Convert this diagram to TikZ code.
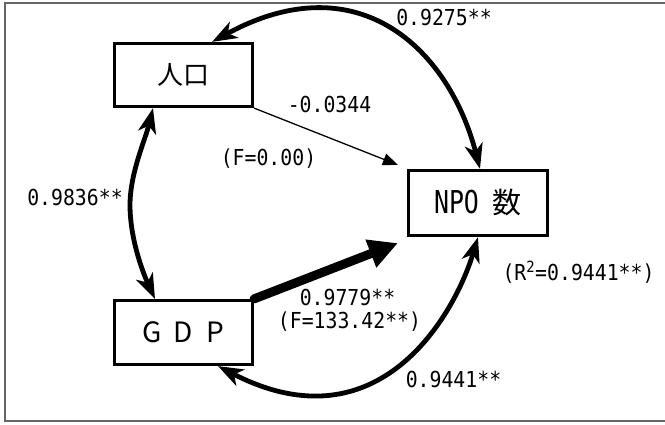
\documentclass[tikz,border=0pt]{standalone}
\usepackage{fontspec}
\usetikzlibrary{arrows.meta,calc}
\newfontfamily\labfont[FakeStretch=0.9]{DejaVu Sans Mono}
\newfontfamily\npofont[FakeStretch=0.79]{DejaVu Sans Mono}
\newfontfamily\cjkfont{Noto Sans CJK JP}
\definecolor{framegray}{HTML}{666666}
\begin{document}
\begin{tikzpicture}[x=1pt,y=-1pt,
  varbox/.style={draw, line width=3.2pt, inner sep=0pt, fill=white},
  lab/.style={inner sep=0pt, anchor=base, font=\labfont\fontsize{22pt}{24pt}\selectfont},
  corr/.style={line width=4.8pt,
    {Stealth[length=25pt,width=18pt,inset=7pt]}-{Stealth[length=25pt,width=18pt,inset=7pt]}},
  thinpath/.style={line width=1.3pt, -{Triangle[length=15pt,width=12pt]}},
  thickpath/.style={line width=9pt, line cap=round, -{Triangle[length=29pt,width=28pt]}}]
\useasboundingbox (0,0) rectangle (665,424);
\fill[white] (0,0) rectangle (665,424);
\draw[framegray, line width=1.3pt] (5,3) rectangle (672,421);

\node[varbox, minimum width=138pt, minimum height=63pt] (pop) at (183.5,75)
  {\cjkfont\fontsize{26pt}{28pt}\selectfont 人口};
\node[varbox, minimum width=138pt, minimum height=64pt] (gdp) at (183.5,332.5)
  {\cjkfont\fontsize{28pt}{30pt}\selectfont\makebox[31.5pt]{G}\makebox[31.5pt]{D}\makebox[31.5pt]{P}\hspace{6pt}};
\node[varbox, minimum width=139pt, minimum height=65pt] (npo) at (478,203)
  {{\npofont\fontsize{31.5pt}{34pt}\selectfont NPO}\hspace{14pt}{\cjkfont\fontsize{29pt}{32pt}\selectfont 数}};
\coordinate (lmid) at (130,205);

% correlations
\draw[corr] ([xshift=2pt]npo.north) .. controls +(-30.5,-118) and +(147.8,-80.6) .. ([xshift=28.5pt]pop.north);
\draw[corr] ([xshift=-30.5pt]pop.south) .. controls +(-7.5,31) and +(0,-32) .. (lmid)
  .. controls +(0,34) and +(-12,-26) .. ([xshift=-28.5pt]gdp.north);
\draw[corr] (npo.south) .. controls +(-23,76.5) and +(161.6,83.5) .. ([xshift=34.5pt]gdp.south);

% paths
\draw[thinpath] (pop.south east) -- ([xshift=-9pt,yshift=4pt]npo.north west);
\draw[thickpath] (gdp.north east) -- ([xshift=-9pt,yshift=-6pt]npo.south west);

% labels
\node[lab] (l1) at (444,25) {0.9275**};
\node[lab] (l2) at (329.5,112) {-0.0344};
\node[lab] (l3) at (268.5,165) {(F=0.00)};
\node[lab] (l4) at (75,205) {0.9836**};
\node[lab] (l5) at (347.5,305) {0.9779**};
\node[lab] (l6) at (349.5,328) {(F=133.42**)};
\node[lab] (l7) at (578.5,280) {(R\textsuperscript{2}=0.9441**)};
\node[lab] (l8) at (453.5,387) {0.9441**};
\end{tikzpicture}
\end{document}
